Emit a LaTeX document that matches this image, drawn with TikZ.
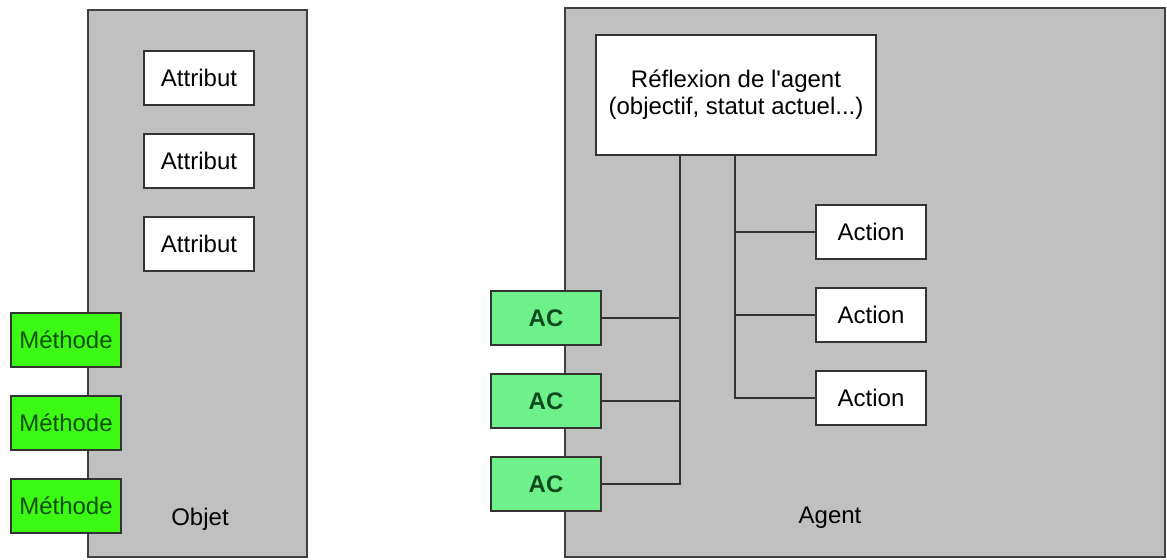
\documentclass[tikz,border=0pt]{standalone}
\usepackage{fontspec}
\setmainfont{Liberation Sans}
\begin{document}
\begin{tikzpicture}[x=0.5pt,y=-0.5pt,
  every node/.style={font=\fontsize{12}{13.5}\selectfont},
  panel/.style={draw=black!75,line width=1.2pt,fill=panelgray},
  whitebox/.style={draw=black!80,line width=1.2pt,fill=white,minimum width=55pt,minimum height=27pt,inner sep=0pt},
  methbox/.style={draw=black!80,line width=1.2pt,fill=methgreen,text=methtext,minimum width=55pt,minimum height=27pt,inner sep=0pt},
  acbox/.style={draw=black!80,line width=1.2pt,fill=acgreen,text=actext,minimum width=55pt,minimum height=27pt,inner sep=0pt,font=\fontsize{12}{13.5}\selectfont\bfseries},
  link/.style={draw=black!80,line width=1.2pt}]
\definecolor{panelgray}{HTML}{C0C0C0}
\definecolor{methgreen}{HTML}{3CFA14}
\definecolor{methtext}{HTML}{0B4F06}
\definecolor{acgreen}{HTML}{6EF08A}
\definecolor{actext}{HTML}{0A4A1E}
\useasboundingbox (0,0) rectangle (1167,559);

% object side
\draw[panel] (88,10) rectangle (307,557);
\node (objet) at (200,519) {Objet};
\node[whitebox] (att1) at (199,78) {Attribut};
\node[whitebox] (att2) at (199,161) {Attribut};
\node[whitebox] (att3) at (199,244) {Attribut};
\node[methbox] (m1) at (66,340) {Méthode};
\node[methbox] (m2) at (66,423) {Méthode};
\node[methbox] (m3) at (66,506) {Méthode};

% agent side
\draw[panel] (565,8) rectangle (1165,557);
\node (agent) at (830,518) {Agent};
\node[whitebox,minimum width=140pt,minimum height=60pt,align=center] (refl) at (736,95)
  {Réflexion de l\textquotesingle agent\\(objectif, statut actuel...)};
\node[whitebox] (act1) at (871,232) {Action};
\node[whitebox] (act2) at (871,315) {Action};
\node[whitebox] (act3) at (871,398) {Action};
\node[acbox] (ac1) at (546,318) {AC};
\node[acbox] (ac2) at (546,401) {AC};
\node[acbox] (ac3) at (546,484) {AC};

% trunks leaving the reflection box
\coordinate (tl) at ([xshift=-28pt]refl.south);
\coordinate (tr) at ([xshift=-0.5pt]refl.south);
\draw[link] (tl) |- (ac3.east);
\draw[link] (ac1.east) -- (ac1.east -| tl);
\draw[link] (ac2.east) -- (ac2.east -| tl);
\draw[link] (tr) |- (act3.west);
\draw[link] (act1.west) -- (act1.west -| tr);
\draw[link] (act2.west) -- (act2.west -| tr);
\end{tikzpicture}
\end{document}
